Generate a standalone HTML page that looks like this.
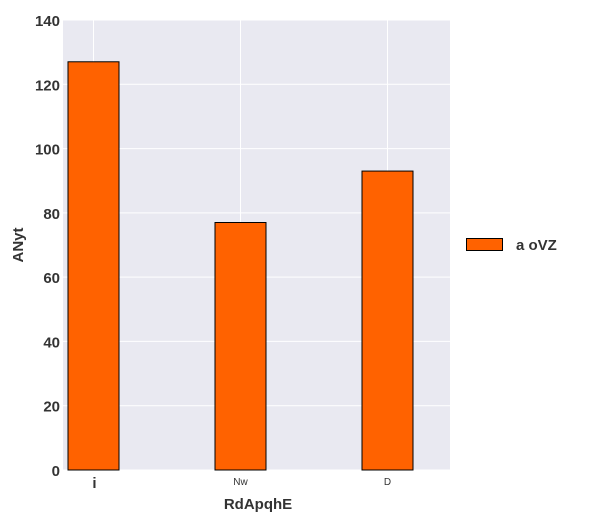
<!DOCTYPE html>
<html><head><meta charset="utf-8"><style>
body{margin:0;background:#fff;}
svg{display:block;font-family:"Liberation Sans",sans-serif;}
</style></head><body>
<svg id="chart" width="600" height="525">
<rect x="63" y="20" width="387" height="450" fill="#e9e9f1"/>
<g id="grid"></g><g id="bars"></g><g id="axes"></g>
<text x="258" y="509" text-anchor="middle" font-size="15" font-weight="bold" fill="#333">RdApqhE</text>
<text transform="translate(23,245) rotate(-90)" text-anchor="middle" font-size="15" font-weight="bold" fill="#333">ANyt</text>
<g>
<rect x="466.5" y="238.5" width="36" height="12" fill="#ff6200" stroke="#000"/>
<text x="516" y="250" font-size="15" font-weight="bold" fill="#333">a oVZ</text>
</g>
</svg>
<script>
const categories=["i","Nw","D"];
const values=[127,77,93];
const yTicks=[0,20,40,60,80,100,120,140];
const NS="http://www.w3.org/2000/svg";
const x0=63,x1=450,yTop=20,yBot=470,yMax=140;
const y=v=>yBot-(v/yMax)*(yBot-yTop);
const xc=i=>93.5+i*147;
const bw=51;
function mk(p,tag,at){const e=document.createElementNS(NS,tag);for(const k in at)e.setAttribute(k,at[k]);p.appendChild(e);return e;}
const grid=document.getElementById('grid'),bars=document.getElementById('bars'),axes=document.getElementById('axes');
yTicks.forEach(t=>{
 const l=mk(grid,'line',{x1:x0,x2:x1,y1:y(t),y2:y(t),stroke:'#fff','stroke-width':1});
 
 
 const tx=mk(axes,'text',{x:60,y:y(t)+6,'text-anchor':'end','font-size':15,'font-weight':'bold',fill:'#333'});
 tx.textContent=t;
 
 
});
categories.forEach((c,i)=>{
 const g=mk(grid,'line',{x1:xc(i),x2:xc(i),y1:yTop,y2:yBot,stroke:'#fff','stroke-width':1});
 
 
 const b=mk(bars,'rect',{x:xc(i)-bw/2,y:y(values[i]),width:bw,height:yBot-y(values[i]),fill:'#ff6200',stroke:'#000','stroke-width':1});
 
 
 const big=i===0;
 const tx=mk(axes,'text',{x:xc(i)+(big?1:0),y:big?488:485,'text-anchor':'middle','font-size':big?15:10,'font-weight':big?'bold':'normal',fill:'#333'});
 tx.textContent=c;
 
 
});
</script>
</body></html>
